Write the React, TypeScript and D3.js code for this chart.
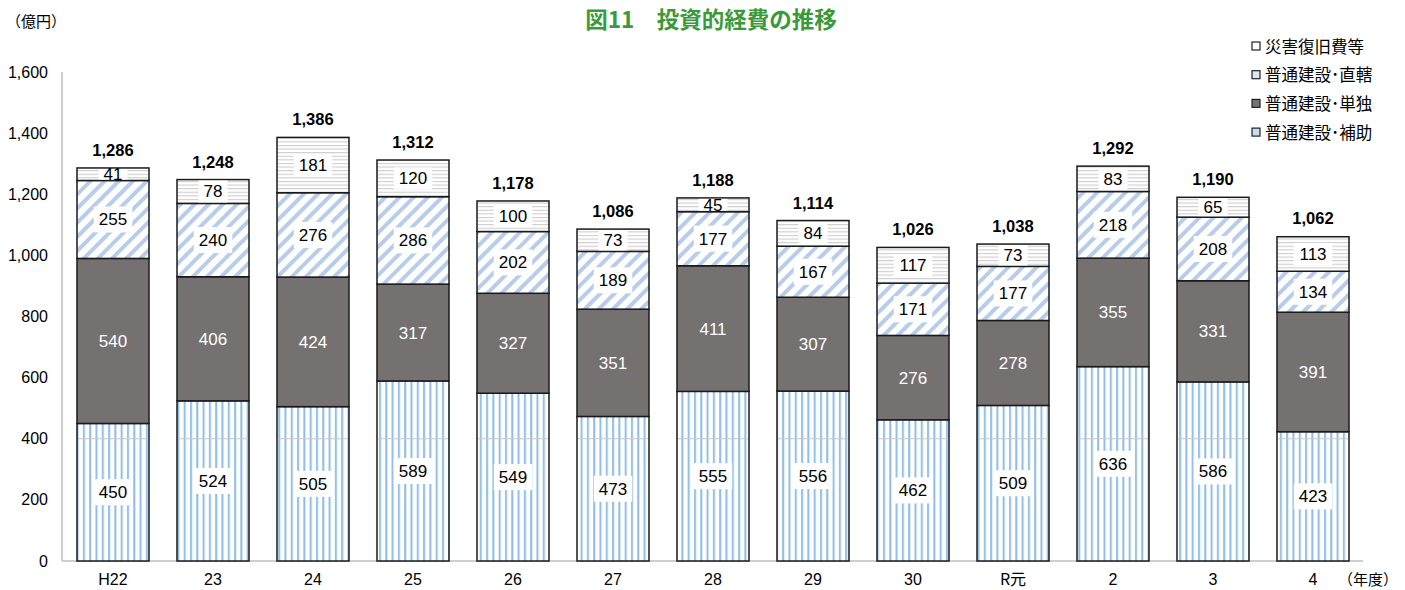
import React from "react";
import * as d3 from "d3";

const categories = ["H22", "23", "24", "25", "26", "27", "28", "29", "30", "R元", "2", "3", "4"];
const hojo = [450, 524, 505, 589, 549, 473, 555, 556, 462, 509, 636, 586, 423];
const tandoku = [540, 406, 424, 317, 327, 351, 411, 307, 276, 278, 355, 331, 391];
const chokkatsu = [255, 240, 276, 286, 202, 189, 177, 167, 171, 177, 218, 208, 134];
const saigai = [41, 78, 181, 120, 100, 73, 45, 84, 117, 73, 83, 65, 113];
const totals = [1286, 1248, 1386, 1312, 1178, 1086, 1188, 1114, 1026, 1038, 1292, 1190, 1062];
const yTicks = [0, 200, 400, 600, 800, 1000, 1200, 1400, 1600];
const legendOrder = ["災害復旧費等", "普通建設･直轄", "普通建設･単独", "普通建設･補助"];

const W = 1405, H = 590;
const FONT = "'Liberation Sans', Arial, 'Noto Sans CJK JP', sans-serif";
const JFONT = "'Noto Sans CJK JP', sans-serif";

export default function App() {
  const x = d3.scaleBand<string>().domain(categories).range([63, 1363]).paddingInner(0.28).paddingOuter(0.14);
  const y = d3.scaleLinear().domain([0, 1600]).range([561, 72]);
  const series = [hojo, tandoku, chokkatsu, saigai];
  const table = categories.map((c, i) => ({ c, v0: hojo[i], v1: tandoku[i], v2: chokkatsu[i], v3: saigai[i] }));
  const stack = d3.stack<any>().keys(["v0", "v1", "v2", "v3"])(table);
  const fills = ["url(#pVert)", "#767171", "url(#pDiag)", "url(#pHoriz)"];
  const legendFill: Record<string, string> = {
    "災害復旧費等": "#ffffff",
    "普通建設･直轄": "#dbe5f4",
    "普通建設･単独": "#767171",
    "普通建設･補助": "#c5dcf0",
  };
  const bw = x.bandwidth();
  const fmt = d3.format(",");

  return (
    <svg width={W} height={H} style={{ position: "absolute", left: 0, top: 0, background: "#fff" }}>
      <defs>
        <pattern id="pVert" patternUnits="userSpaceOnUse" width="6.3" height="10">
          <rect width="6.3" height="10" fill="#fff" />
          <rect x="1" width="2" height="10" fill="#8fbde6" />
        </pattern>
        <pattern id="pDiag" patternUnits="userSpaceOnUse" width="10" height="10" patternTransform="rotate(45)">
          <rect width="10" height="10" fill="#fff" />
          <rect width="4" height="10" fill="#b7cdea" />
        </pattern>
        <pattern id="pHoriz" patternUnits="userSpaceOnUse" width="10" height="3.6">
          <rect width="10" height="3.6" fill="#fff" />
          <rect y="1" width="10" height="1" fill="#c8c8c8" />
        </pattern>
      </defs>

      <text x={6} y={27} fontFamily={JFONT} fontSize={15} fill="#000">（億円）</text>
      <text x={711} y={28} textAnchor="middle" fontFamily={JFONT} fontSize={22.5} fontWeight="bold" fill="#3a9a3a">図11　投資的経費の推移</text>

      {yTicks.map((t) => (
        <text key={t} x={48} y={y(t) + 5.5} textAnchor="end" fontFamily={FONT} fontSize={16} fill="#000">{fmt(t)}</text>
      ))}
      <line x1={62} x2={62} y1={72} y2={561} stroke="#bfbfbf" strokeWidth={1.5} />
      <line x1={62} x2={1363} y1={561} y2={561} stroke="#bfbfbf" strokeWidth={1.5} />

      {stack.map((layer, si) => (
        <g key={si}>
          {layer.map((d, i) => (
            <rect key={i} x={x(categories[i])!} y={y(d[1])} width={bw} height={y(d[0]) - y(d[1])}
              fill={fills[si]} stroke="#1a1a1a" strokeWidth={1.5} />
          ))}
        </g>
      ))}

      {categories.map((c) => (
        <line key={"g" + c} x1={x(c)! + 1} x2={x(c)! + bw - 1} y1={y(400)} y2={y(400)} stroke="#c8c8c8" strokeWidth={1} />
      ))}

      {stack.map((layer, si) => (
        <g key={"l" + si}>
          {layer.map((d, i) => {
            const v = series[si][i];
            const cy = (y(d[0]) + y(d[1])) / 2;
            const cx = x(categories[i])! + bw / 2;
            const tw = String(v).length * 9.5 + 10;
            const bh = si === 3 ? Math.min(22, y(d[0]) - y(d[1]) - 2) : 26;
            const showBox = si !== 1;
            return (
              <g key={i}>
                {showBox && <rect x={cx - tw / 2} y={cy - bh / 2} width={tw} height={bh} fill="#fff" />}
                <text x={cx} y={cy + 6} textAnchor="middle" fontFamily={FONT} fontSize={17}
                  fill={si === 1 ? "#ffffff" : "#000"}>{v}</text>
              </g>
            );
          })}
        </g>
      ))}

      {categories.map((c, i) => (
        <text key={"t" + c} x={x(c)! + bw / 2} y={y(totals[i]) - 12} textAnchor="middle" fontFamily={FONT}
          fontSize={16.5} fontWeight="bold" fill="#000">{fmt(totals[i])}</text>
      ))}

      {categories.map((c) => (
        <text key={"x" + c} x={x(c)! + bw / 2} y={585} textAnchor="middle" fontFamily={c === "R元" ? JFONT : FONT}
          fontSize={16} fill="#000">{c}</text>
      ))}
      <text x={1338} y={585} fontFamily={JFONT} fontSize={15} fill="#000">（年度）</text>

      {legendOrder.map((name, i) => (
        <g key={name} transform={`translate(1252, ${47 + i * 28.7})`}>
          <rect x={0} y={-5} width={8} height={8} fill={legendFill[name]} stroke="#222" strokeWidth={1.2} />
          <text x={13} y={5.5} fontFamily={JFONT} fontSize={16.5} fill="#000">{name}</text>
        </g>
      ))}
    </svg>
  );
}
